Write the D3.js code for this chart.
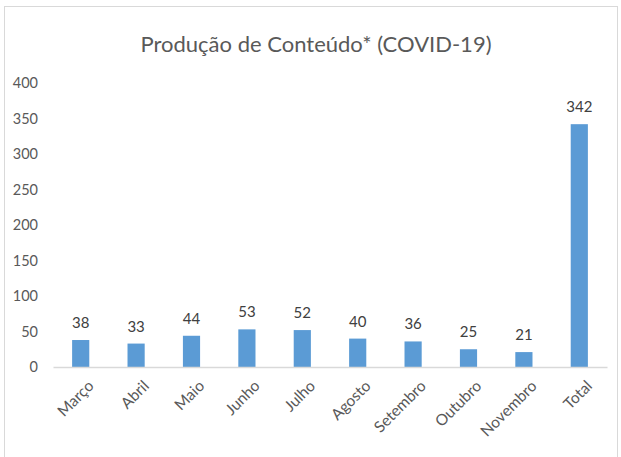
<!DOCTYPE html>
<html>
<head>
<meta charset="utf-8">
<script src="https://cdn.jsdelivr.net/npm/d3@7"></script>
<style>
  body { margin: 0; background: #fff; }
  text { font-family: Lato, "Open Sans", sans-serif; }
</style>
</head>
<body>
<div id="chart"></div>
<script>
const months = ['Março', 'Abril', 'Maio', 'Junho', 'Julho', 'Agosto', 'Setembro', 'Outubro', 'Novembro', 'Total'];
const counts = [38, 33, 44, 53, 52, 40, 36, 25, 21, 342];
const yTicks = [0, 50, 100, 150, 200, 250, 300, 350, 400];

const svgWidth = 621, svgHeight = 457;
const margin = { top: 83, right: 14, bottom: 90, left: 53 };
const width = svgWidth - margin.left - margin.right;
const height = 367 - margin.top;

const root = d3.select('#chart').append('svg')
    .attr('width', svgWidth)
    .attr('height', svgHeight);

// outer frame like the spreadsheet chart area
root.append('rect')
    .attr('x', 4.5).attr('y', 6.5)
    .attr('width', 613).attr('height', 460)
    .attr('fill', 'none')
    .attr('stroke', '#d9d9d9');

root.append('text')
    .attr('x', 316).attr('y', 52)
    .attr('text-anchor', 'middle')
    .attr('font-size', 22)
    .attr('fill', '#595959')
    .text('Produção de Conteúdo* (COVID-19)');

const svg = root.append('g')
    .attr('transform', 'translate(' + margin.left + ',' + margin.top + ')');

const x = d3.scaleBand()
    .domain(months)
    .range([0, width])
    .paddingInner(0.69)
    .paddingOuter(0.345);
const y = d3.scaleLinear()
    .domain([0, 400])
    .range([height, 0]);

// y axis labels only (no line, no ticks)
const yAxis = svg.append('g')
    .call(d3.axisLeft(y).tickValues(yTicks).tickSize(0).tickPadding(15));
yAxis.select('.domain').remove();
yAxis.selectAll('text')
    .attr('font-size', 14.5)
    .attr('fill', '#595959')
    .style('font-family', 'Lato, "Open Sans", sans-serif');

svg.selectAll('.bar')
    .data(counts)
    .enter().append('rect')
    .attr('class', 'bar')
    .attr('x', (d, i) => x(months[i]))
    .attr('width', x.bandwidth())
    .attr('y', d => y(d))
    .attr('height', d => height - y(d))
    .attr('fill', '#5b9bd5');

svg.selectAll('.label')
    .data(counts)
    .enter().append('text')
    .attr('class', 'label')
    .attr('x', (d, i) => x(months[i]) + x.bandwidth() / 2)
    .attr('y', d => y(d) - 12)
    .attr('text-anchor', 'middle')
    .attr('font-size', 15)
    .attr('fill', '#404040')
    .text(d => d);

const xAxis = svg.append('g')
    .attr('transform', 'translate(0,' + height + ')')
    .call(d3.axisBottom(x).tickSize(0).tickPadding(10));
xAxis.select('.domain')
    .attr('stroke', '#d9d9d9')
    .attr('stroke-width', 1.5);
xAxis.selectAll('text')
    .attr('font-size', 15.5)
    .attr('fill', '#595959')
    .style('font-family', 'Lato, "Open Sans", sans-serif')
    .attr('text-anchor', 'end')
    .attr('dy', '0.35em')
    .attr('transform', 'translate(3,9) rotate(-45)');
</script>
</body>
</html>
